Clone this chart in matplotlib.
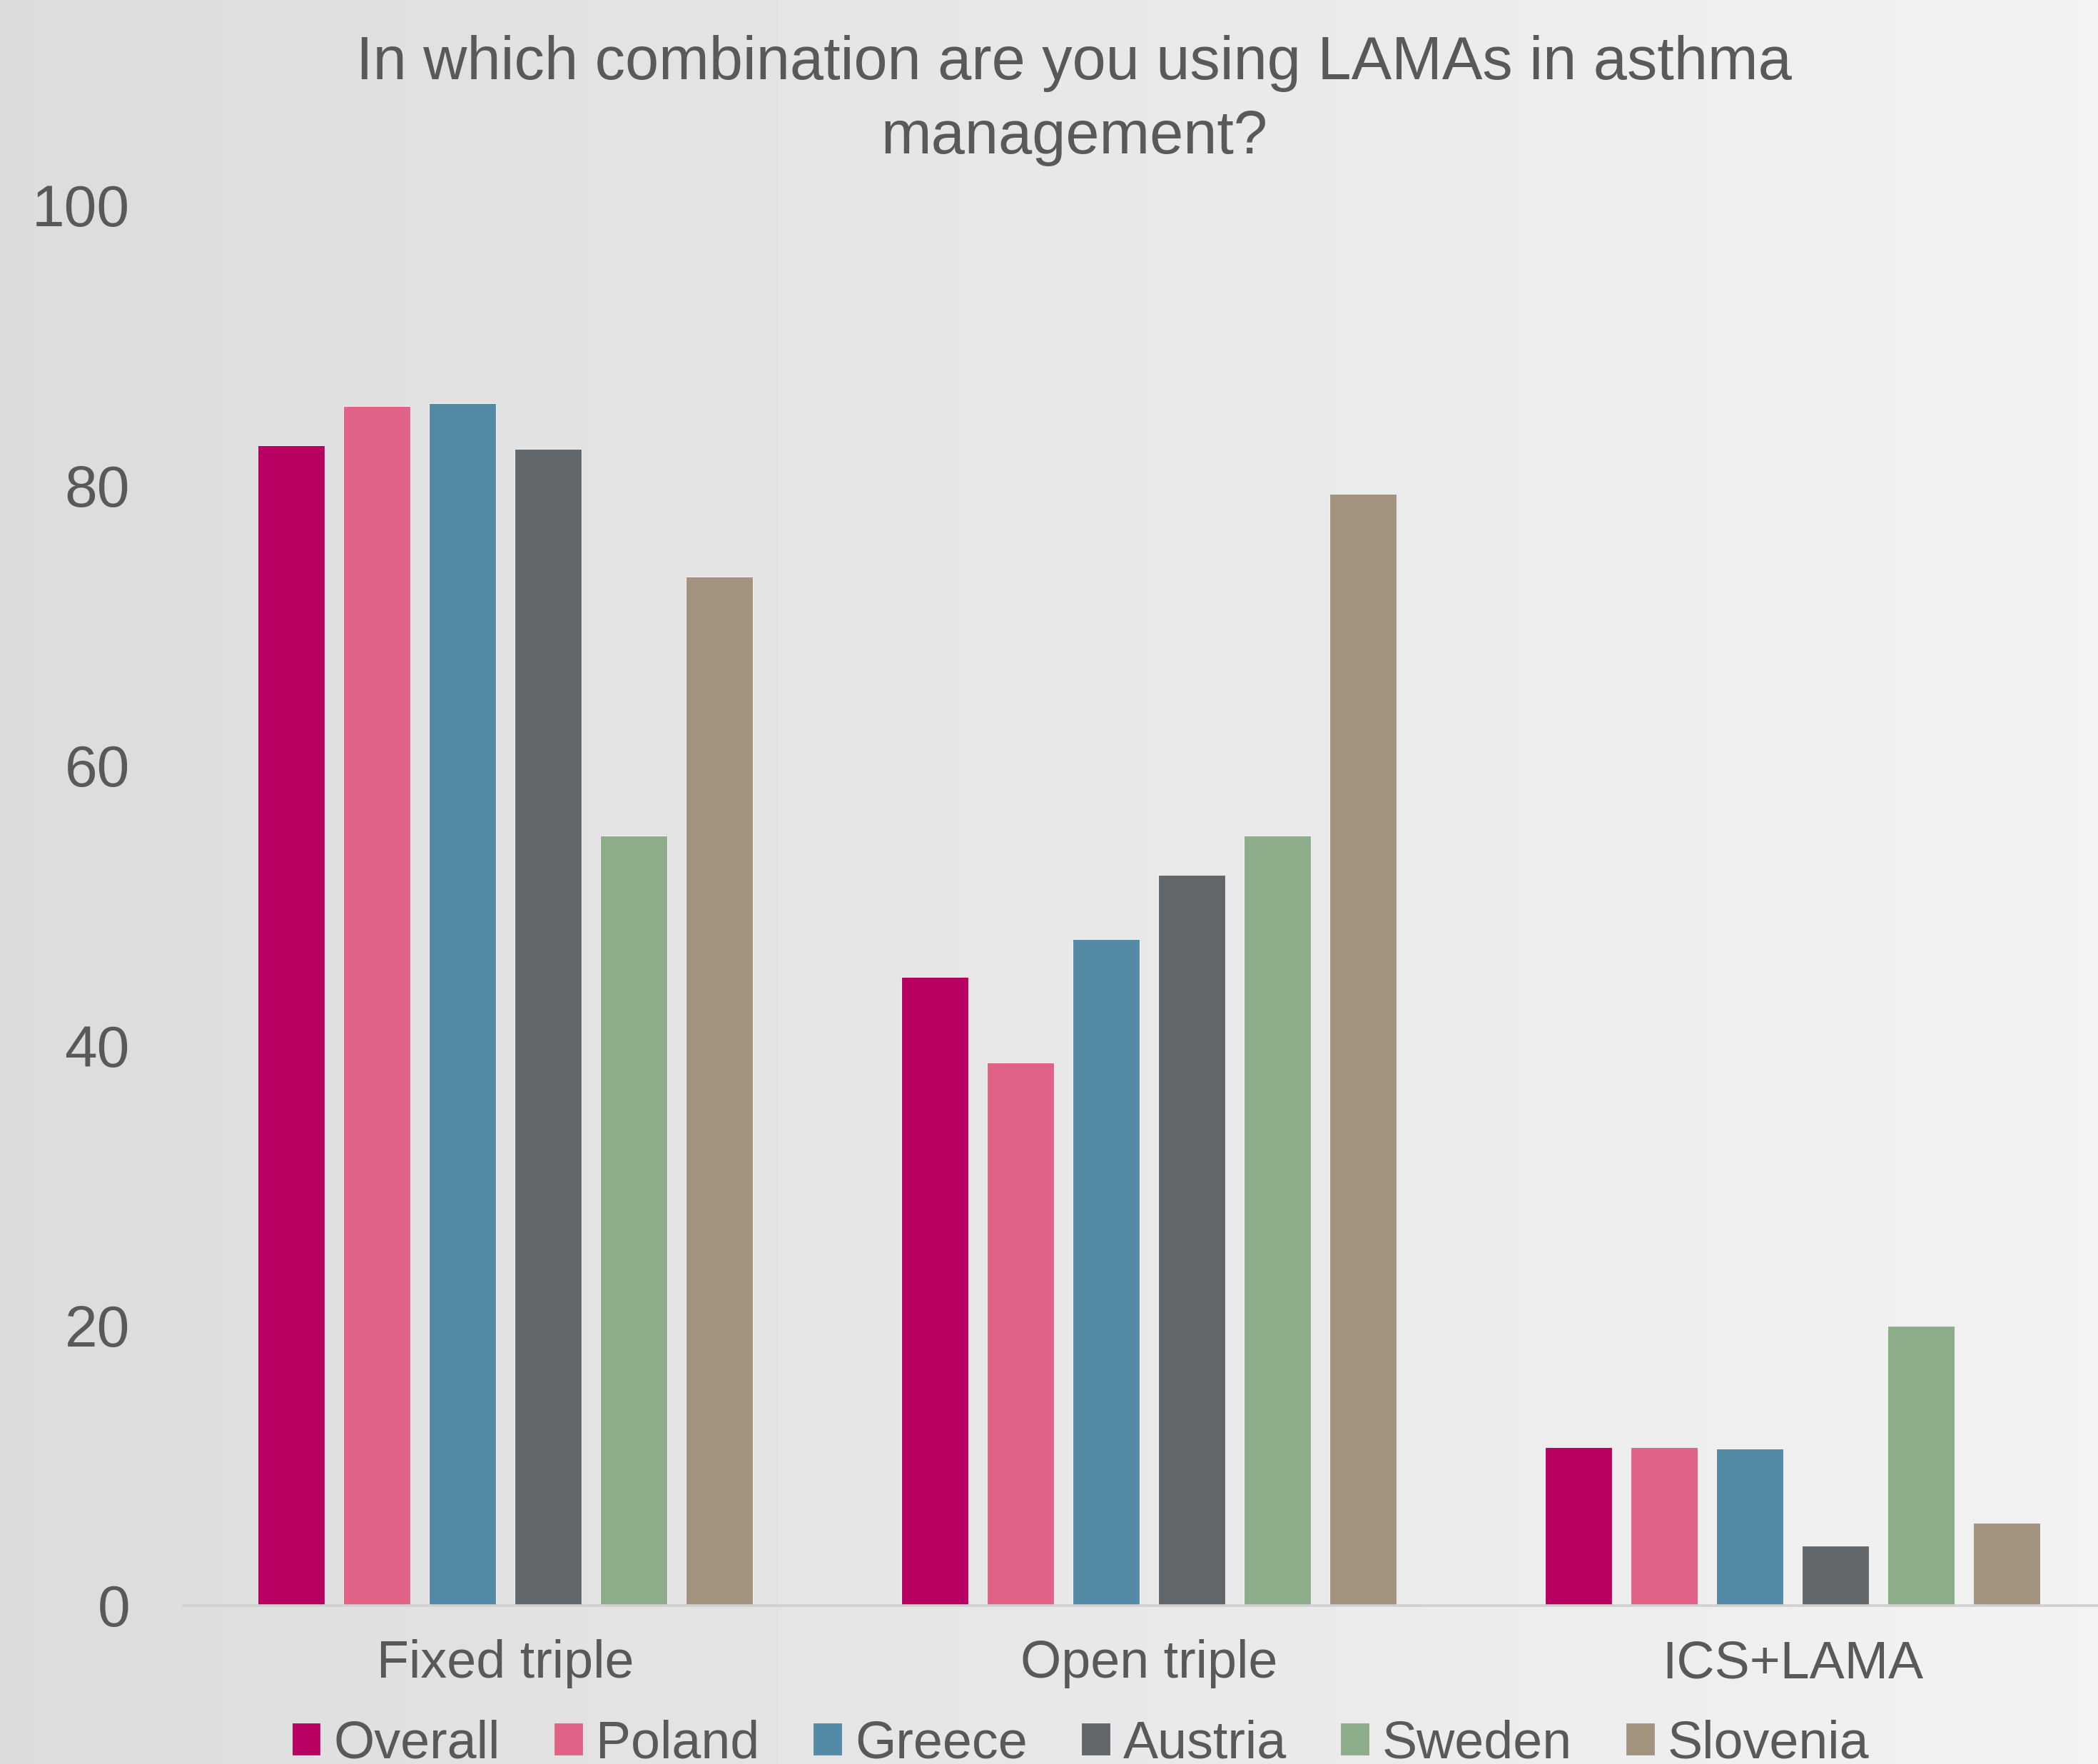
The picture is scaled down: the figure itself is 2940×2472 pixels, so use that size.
import matplotlib
matplotlib.use("Agg")
import matplotlib.pyplot as plt
import matplotlib.patches as mpatches
import numpy as np

plt.rcParams["font.family"] = ["Liberation Sans", "DejaVu Sans"]

TEXT_COLOR = "#595959"
AXIS_COLOR = "#d0d0d0"

categories = ["Fixed triple", "Open triple", "ICS+LAMA"]
series     = ["Overall", "Poland", "Greece", "Austria", "Sweden", "Slovenia"]
colors     = ["#b80063", "#e06287", "#548aa6", "#62676b", "#8dac89", "#a1937e"]

overall  = [82.9, 44.9, 11.3]
poland   = [85.7, 38.8, 11.3]
greece   = [85.9, 47.6, 11.2]
austria  = [82.6, 52.2, 4.3]
sweden   = [55.0, 55.0, 20.0]
slovenia = [73.5, 79.4, 5.9]
values   = [overall, poland, greece, austria, sweden, slovenia]

y_ticks = [0, 20, 40, 60, 80, 100]

W, H, DPI = 2940, 2472, 200
fig = plt.figure(figsize=(W / DPI, H / DPI), dpi=DPI)

# horizontal grey gradient background
bg = fig.add_axes([0, 0, 1, 1], zorder=-10)
grad = np.linspace(0.862, 0.950, 256).reshape(1, -1)
bg.imshow(grad, cmap="gray", vmin=0, vmax=1, aspect="auto", extent=[0, 1, 0, 1])
bg.set_axis_off()

left_px, bottom_px, top_px = 257, 2250, 288
ax = fig.add_axes([left_px / W, 1 - bottom_px / H, 1 - left_px / W, (bottom_px - top_px) / H])
ax.set_facecolor("none")

x = np.arange(len(categories))
step, width = 0.133, 0.104
n = len(series)
for i, (name, vals, c) in enumerate(zip(series, values, colors)):
    offs = (i - (n - 1) / 2) * step
    ax.bar(x + offs, vals, width=width, color=c, label=name,
           edgecolor="#f0f0f0", linewidth=0.4, zorder=3)

cat_px = 902
ax.set_xlim(-0.5, -0.5 + (W - left_px) / cat_px)
ax.set_ylim(0, 100)
ax.set_yticks(y_ticks)
ax.set_yticklabels([str(t) for t in y_ticks], fontsize=29.5, color=TEXT_COLOR)
ax.set_xticks(x)
ax.set_xticklabels(categories, fontsize=26.5, color=TEXT_COLOR)
ax.tick_params(axis="y", length=0, pad=27)
ax.tick_params(axis="x", length=0, pad=17)
for s in ["top", "right", "left"]:
    ax.spines[s].set_visible(False)
ax.spines["bottom"].set_color(AXIS_COLOR)
ax.spines["bottom"].set_linewidth(1.3)
ax.spines["bottom"].set_zorder(4)

fig.text(1505 / W, 0.980, "In which combination are you using LAMAs in asthma\nmanagement?",
         ha="center", va="top", fontsize=30.5, color=TEXT_COLOR, linespacing=1.38)

handles = [mpatches.Patch(color=c, label=s) for s, c in zip(series, colors)]
fig.legend(handles=handles, loc="center", bbox_to_anchor=(1515 / W, 1 - 2444 / H),
           ncol=6, frameon=False, fontsize=26.5, labelcolor=TEXT_COLOR,
           handlelength=0.5, handleheight=0.5, handletextpad=0.27,
           columnspacing=1.05, borderpad=0, borderaxespad=0)

fig.savefig("out.png", dpi=DPI)
